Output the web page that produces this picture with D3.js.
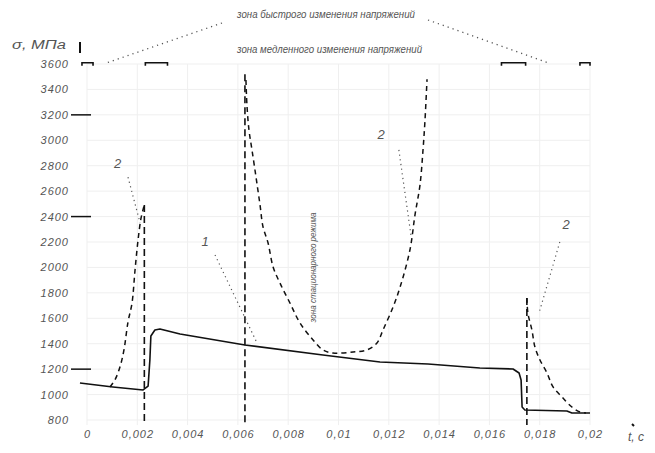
<!DOCTYPE html>
<html><head><meta charset="utf-8">
<script src="https://cdn.jsdelivr.net/npm/d3@7"></script>
<style>
html,body{margin:0;padding:0;background:#fff;}
svg{display:block;}
text{font-family:"Liberation Sans",Arial,sans-serif;font-style:italic;fill:#555;}
</style></head>
<body>
<svg id="c" width="655" height="453"></svg>
<script>
// ---- data (t in s, sigma in MPa) ----
const xTicks = [0,0.002,0.004,0.006,0.008,0.01,0.012,0.014,0.016,0.018,0.02];
const xTickLabels = ["0","0,002","0,004","0,006","0,008","0,01","0,012","0,014","0,016","0,018","0,02"];
const yTicks = [3600,3400,3200,3000,2800,2600,2400,2200,2000,1800,1600,1400,1200,1000,800];
const yLongTicks = [3200,2400,1200];

// curve 1 (solid)
const curve1T = [-0.00028,0.00103,0.00223,0.00243,0.00250,0.00254,0.00270,0.00290,0.00370,0.00628,0.00938,0.01165,0.01356,0.01562,0.01694,0.01718,0.01726,0.01730,0.01741,0.01908,0.01928,0.02000];
const curve1S = [1091,1060,1036,1067,1272,1461,1508,1516,1476,1390,1311,1256,1240,1209,1201,1170,1115,902,879,871,855,855];

// curve 2 (dashed), three pieces
const curve2aT = [0.00091,0.00111,0.00131,0.00147,0.00163,0.00179,0.00191,0.00203,0.00215,0.00228];
const curve2aS = [1060,1115,1217,1351,1571,1720,1980,2216,2389,2491];
const drop2aT = 0.00228;

const curve2bT = [0.00632,0.00636,0.00644,0.00656,0.00672,0.00688,0.00700,0.00720,0.00740,0.00767,0.00807,0.00847,0.00899,0.00938,0.00978,0.01058,0.01113,0.01153,0.01177,0.01217,0.01245,0.01284,0.01304,0.01324,0.01336,0.01344,0.01352];
const curve2bS = [3474,3277,3081,2924,2711,2491,2318,2192,2003,1878,1720,1563,1429,1351,1327,1335,1351,1406,1508,1689,1846,2137,2412,2648,2924,3160,3480];

const curve2cT = [0.01749,0.01753,0.01769,0.01781,0.01801,0.01829,0.01853,0.01889,0.01928,0.01960,0.01984];
const curve2cS = [1760,1642,1508,1374,1272,1170,1060,981,902,863,855];

// vertical boundary lines (t), from sigma top to bottom
const vLineT = [0.00228,0.00628,0.01749];
const vLineTop = [2491,3520,1760];
const sigmaBottom = 760;

// annotation labels: text, t, sigma
const noteText = ["2","2","2","1"];
const noteT = [0.00122,0.01169,0.01905,0.00470];
const noteS = [2780,3010,2300,2170];
// leaders: start (t,sigma) -> end (t,sigma)
const leadT0 = [0.00163,0.01240,0.01880,0.00509];
const leadS0 = [2710,2924,2200,2098];
const leadT1 = [0.00211,0.01288,0.01800,0.00676];
const leadS1 = [2350,2255,1660,1406];

// zone brackets at the top (t ranges)
const zoneT0 = [-0.0002,0.00232,0.01648,0.01960];
const zoneT1 = [0.00024,0.00320,0.01744,0.02000];
const zoneS = 3610;

const topText1 = "зона быстрого изменения напряжений";
const topText2 = "зона медленного изменения напряжений";
const midText = "зона стационарного режима";

// ---- drawing ----
const svg = d3.select("#c");
const x = d3.scaleLinear().domain([0,0.02]).range([87,590]);
const y = d3.scaleLinear().domain([800,3600]).range([420,64]);

// grid
const grid = svg.append("g").attr("stroke","#efefef").attr("stroke-width",1);
grid.selectAll("line.v").data(xTicks).join("line")
  .attr("x1",d=>x(d)).attr("x2",d=>x(d)).attr("y1",y(3600)).attr("y2",y(sigmaBottom));
grid.selectAll("line.h").data(yTicks).join("line")
  .attr("x1",x(0)).attr("x2",x(0.02)).attr("y1",d=>y(d)).attr("y2",d=>y(d));

// y axis labels
const yAxis = d3.axisLeft(y).tickValues(yTicks).tickSize(0).tickPadding(0).tickFormat(d3.format("d"));
const ya = svg.append("g").attr("transform","translate(69,0)").call(yAxis);
ya.select(".domain").remove();
ya.selectAll("text").style("font-size","11px").style("letter-spacing","1px").attr("fill","#555")
  .style("font-family","'Liberation Sans',Arial,sans-serif").style("font-style","italic");
// long ticks
svg.append("g").selectAll("line").data(yLongTicks).join("line")
  .attr("x1",71).attr("x2",91).attr("y1",d=>y(d)).attr("y2",d=>y(d))
  .attr("stroke","#111").attr("stroke-width",1.5);

// x axis labels
const xAxis = d3.axisBottom(x).tickValues(xTicks).tickSize(0).tickPadding(0)
  .tickFormat((d,i)=>xTickLabels[i]);
const xa = svg.append("g").attr("transform","translate(0,430)").call(xAxis);
xa.select(".domain").remove();
xa.selectAll("text").style("font-size","11px").style("letter-spacing","1px").attr("fill","#555")
  .style("font-family","'Liberation Sans',Arial,sans-serif").style("font-style","italic");

// axis titles
svg.append("text").attr("x",12).attr("y",49).attr("textLength",54).attr("lengthAdjust","spacingAndGlyphs")
  .style("font-size","12px").text("σ, МПа");
svg.append("line").attr("x1",80).attr("x2",80).attr("y1",42).attr("y2",53).attr("stroke","#111").attr("stroke-width",2);
svg.append("text").attr("x",628).attr("y",441).style("font-size","12px").text("t, с");
svg.append("line").attr("x1",632).attr("x2",634).attr("y1",424).attr("y2",426).attr("stroke","#111").attr("stroke-width",2);

const line = d3.line().x(d=>x(d[0])).y(d=>y(d[1]));
const smooth = d3.line().x(d=>x(d[0])).y(d=>y(d[1])).curve(d3.curveCatmullRom.alpha(0.5));
const zip = (a,b)=>a.map((v,i)=>[v,b[i]]);

// vertical dashed lines
svg.append("g").selectAll("line").data(vLineT).join("line")
  .attr("x1",d=>x(d)).attr("x2",d=>x(d))
  .attr("y1",(d,i)=>y(vLineTop[i])).attr("y2",y(sigmaBottom))
  .attr("stroke","#111").attr("stroke-width",1.6).attr("stroke-dasharray","7,4");

// curve 2 dashed
[[curve2aT,curve2aS],[curve2bT,curve2bS],[curve2cT,curve2cS]].forEach(([t,s])=>{
  svg.append("path").attr("d",smooth(zip(t,s))).attr("fill","none")
    .attr("stroke","#111").attr("stroke-width",1.5).attr("stroke-dasharray","5,4");
});

// curve 1 solid
svg.append("path").attr("d",line(zip(curve1T,curve1S))).attr("fill","none")
  .attr("stroke","#111").attr("stroke-width",1.6).attr("stroke-linejoin","round");

// leaders
svg.append("g").selectAll("line").data(leadT0).join("line")
  .attr("x1",d=>x(d)).attr("y1",(d,i)=>y(leadS0[i]))
  .attr("x2",(d,i)=>x(leadT1[i])).attr("y2",(d,i)=>y(leadS1[i]))
  .attr("stroke","#555").attr("stroke-width",1.2).attr("stroke-dasharray","1.2,3.5");

// note labels
svg.append("g").selectAll("text").data(noteText).join("text")
  .attr("x",(d,i)=>x(noteT[i])).attr("y",(d,i)=>y(noteS[i]))
  .attr("text-anchor","middle").style("font-size","13px").attr("fill","#333").text(d=>d);

// top zone brackets
const zb = svg.append("g").attr("stroke","#111").attr("stroke-width",1.6).attr("fill","none");
zoneT0.forEach((t0,i)=>{
  const x0=x(t0), x1=x(zoneT1[i]), yy=y(zoneS);
  zb.append("path").attr("d",`M${x0},${yy+3}V${yy}H${x1}V${yy+3}`);
});

// top texts
svg.append("text").attr("x",237).attr("y",18).attr("textLength",178).attr("lengthAdjust","spacingAndGlyphs")
  .style("font-size","10px").text(topText1);
svg.append("text").attr("x",237).attr("y",53).attr("textLength",185).attr("lengthAdjust","spacingAndGlyphs")
  .style("font-size","10px").text(topText2);
// dotted leaders from top text
svg.append("line").attr("x1",222).attr("y1",23).attr("x2",x(0.0008)).attr("y2",y(zoneS))
  .attr("stroke","#555").attr("stroke-width",1.3).attr("stroke-dasharray","1.2,4");
svg.append("line").attr("x1",428).attr("y1",20).attr("x2",x(0.01833)).attr("y2",y(zoneS))
  .attr("stroke","#555").attr("stroke-width",1.3).attr("stroke-dasharray","1.2,4");

// vertical middle text
svg.append("text").attr("transform",`translate(${x(0.00912)},${y(2000)}) rotate(-90)`)
  .attr("text-anchor","middle").attr("textLength",110).attr("lengthAdjust","spacingAndGlyphs")
  .style("font-size","9px").text(midText);
</script>
</body></html>
